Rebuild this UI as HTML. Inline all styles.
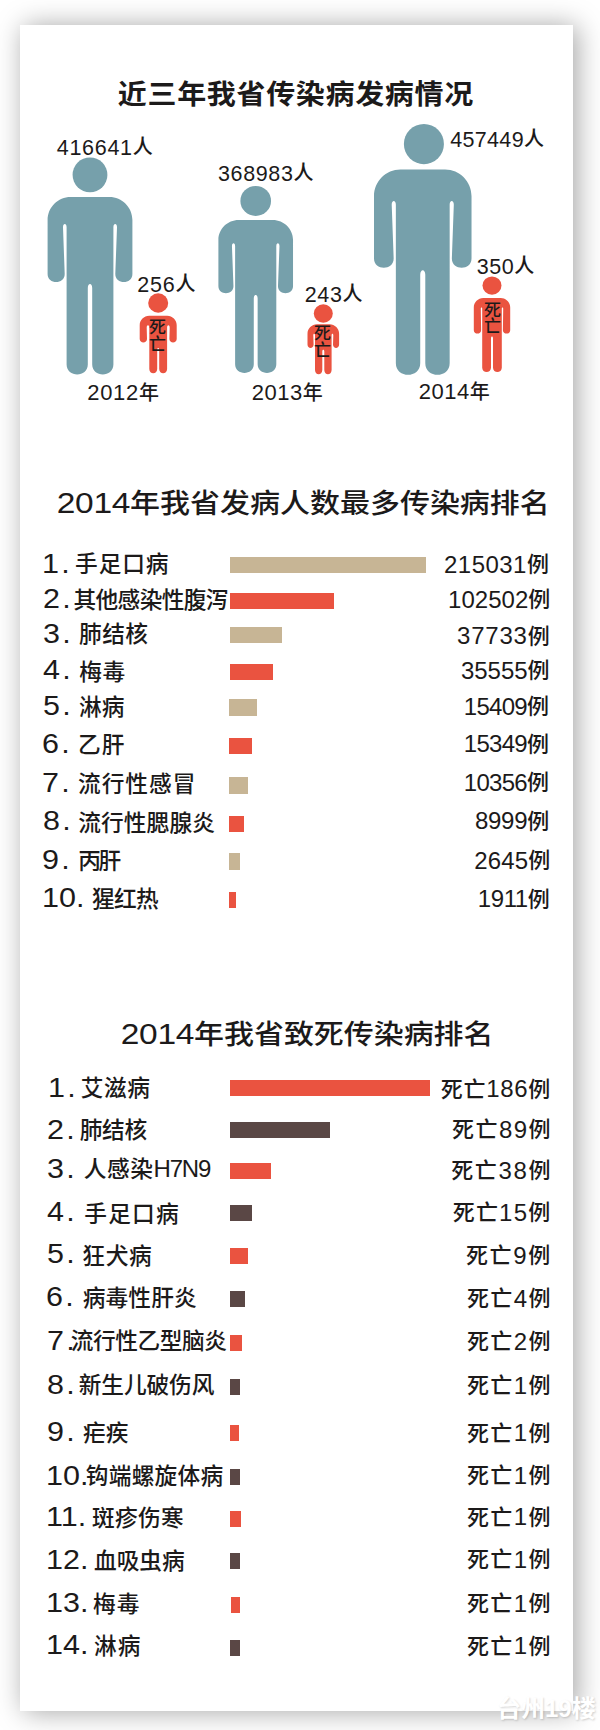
<!DOCTYPE html><html lang="zh"><head><meta charset="utf-8"><title>传染病发病情况</title><style>
html,body{margin:0;padding:0;background:#fff;}
body{width:600px;height:1730px;position:relative;overflow:hidden;font-family:"Liberation Sans","Noto Sans CJK SC",sans-serif;color:#1c1a1a;}
#panel{position:absolute;left:20px;top:25px;width:553px;height:1685.5px;background:#fff;box-shadow:3.5px 0.5px 26px rgba(0,0,0,0.36);}
.t{position:absolute;white-space:nowrap;line-height:1;}
.c{font-family:"Liberation Sans","Noto Sans CJK SC",sans-serif;font-weight:500;}
.h{font-weight:700;font-family:"Liberation Sans","Noto Sans CJK SC",sans-serif;font-size:29px;transform:scaleY(0.95);transform-origin:0 50%;}
.h2{font-weight:500;font-size:30px;transform:scaleY(0.9);}
.hd{font-family:"Liberation Sans",sans-serif;font-weight:400;font-size:33.5px;letter-spacing:-0.3px;}
.b{position:absolute;}
.n{font-size:27px;}
.v{font-size:24px;}
.z{font-weight:500;font-size:22.7px;font-family:"Liberation Sans","Noto Sans CJK SC",sans-serif;}
.zs{font-weight:500;font-size:22px;font-family:"Liberation Sans","Noto Sans CJK SC",sans-serif;position:relative;top:-0.6px;}
svg{position:absolute;left:0;top:0;}
</style></head><body><div id="panel"></div>
<svg width="600" height="460" viewBox="0 0 600 460"><g transform="translate(47.6,157.6) scale(1.0000,1.0000)" fill="#76a0ab"><circle cx="42.40" cy="17.3" r="17.4"/><path d="M23.00,39.40 L61.80,39.40 C74.45,39.40 84.80,49.75 84.80,62.40 L84.80,116.30 C84.80,126.97 67.70,126.97 67.70,116.30 L69.40,69.74 C69.40,65.42 65.80,65.42 65.80,69.74 L65.80,206.80 C65.80,220.13 44.60,220.13 44.60,206.80 L44.60,130.36 C44.60,125.08 40.20,125.08 40.20,130.36 L40.20,206.80 C40.20,220.13 19.00,220.13 19.00,206.80 L19.00,69.74 C19.00,65.42 15.40,65.42 15.40,69.74 L17.10,116.30 C17.10,126.97 0,126.97 0,116.30 L0,62.40 C0,49.75 10.35,39.40 23.00,39.40 Z"/></g><g transform="translate(218.4,186) scale(0.8800,0.8625)" fill="#76a0ab"><circle cx="42.40" cy="17.3" r="17.4"/><path d="M23.00,39.40 L61.80,39.40 C74.45,39.40 84.80,49.75 84.80,62.40 L84.80,116.30 C84.80,126.97 67.70,126.97 67.70,116.30 L69.40,69.74 C69.40,65.42 65.80,65.42 65.80,69.74 L65.80,206.80 C65.80,220.13 44.60,220.13 44.60,206.80 L44.60,130.36 C44.60,125.08 40.20,125.08 40.20,130.36 L40.20,206.80 C40.20,220.13 19.00,220.13 19.00,206.80 L19.00,69.74 C19.00,65.42 15.40,65.42 15.40,69.74 L17.10,116.30 C17.10,126.97 0,126.97 0,116.30 L0,62.40 C0,49.75 10.35,39.40 23.00,39.40 Z"/></g><g transform="translate(374,124) scale(1.1500,1.1570)" fill="#76a0ab"><circle cx="43.40" cy="17.3" r="17.4"/><path d="M23.00,39.40 L61.80,39.40 C74.45,39.40 84.80,49.75 84.80,62.40 L84.80,116.30 C84.80,126.97 67.70,126.97 67.70,116.30 L69.40,69.74 C69.40,65.42 65.80,65.42 65.80,69.74 L65.80,206.80 C65.80,220.13 44.60,220.13 44.60,206.80 L44.60,130.36 C44.60,125.08 40.20,125.08 40.20,130.36 L40.20,206.80 C40.20,220.13 19.00,220.13 19.00,206.80 L19.00,69.74 C19.00,65.42 15.40,65.42 15.40,69.74 L17.10,116.30 C17.10,126.97 0,126.97 0,116.30 L0,62.40 C0,49.75 10.35,39.40 23.00,39.40 Z"/></g><g transform="translate(139.7,293.3)" fill="#ea5340"><ellipse cx="18.50" cy="9.70" rx="10.00" ry="9.70"/><path d="M9.50,22.50 L27.50,22.50 C32.73,22.50 37.00,26.77 37.00,32.00 L37.00,45.80 C37.00,50.33 29.70,50.33 29.70,45.80 L30.00,34.34 C30.00,31.22 27.40,31.22 27.40,34.34 L27.40,75.80 C27.40,81.40 19.50,81.40 19.50,75.80 L19.50,56.50 C19.50,54.10 17.50,54.10 17.50,56.50 L17.50,75.80 C17.50,81.40 9.60,81.40 9.60,75.80 L9.60,34.34 C9.60,31.22 7.00,31.22 7.00,34.34 L7.30,45.80 C7.30,50.33 0,50.33 0,45.80 L0,32.00 C0,26.77 4.28,22.50 9.50,22.50 Z"/></g><g transform="translate(307.5,304.3)" fill="#ea5340"><ellipse cx="15.80" cy="9.21" rx="9.50" ry="9.21"/><path d="M9.50,19.90 L22.10,19.90 C27.33,19.90 31.60,24.17 31.60,29.40 L31.60,40.30 C31.60,44.83 25.50,44.83 25.50,40.30 L25.80,30.93 C25.80,28.89 24.10,28.89 24.10,30.93 L24.10,65.80 C24.10,71.40 16.80,71.40 16.80,65.80 L16.80,47.30 C16.80,44.90 14.80,44.90 14.80,47.30 L14.80,65.80 C14.80,71.40 7.50,71.40 7.50,65.80 L7.50,30.93 C7.50,28.89 5.80,28.89 5.80,30.93 L6.10,40.30 C6.10,44.83 0,44.83 0,40.30 L0,29.40 C0,24.17 4.28,19.90 9.50,19.90 Z"/></g><g transform="translate(473.8,276.4)" fill="#ea5340"><ellipse cx="18.20" cy="9.21" rx="9.50" ry="9.21"/><path d="M9.50,21.60 L26.90,21.60 C32.12,21.60 36.40,25.88 36.40,31.10 L36.40,53.80 C36.40,58.33 29.10,58.33 29.10,53.80 L29.40,32.36 C29.40,30.68 28.00,30.68 28.00,32.36 L28.00,91.40 C28.00,97.00 19.20,97.00 19.20,91.40 L19.20,61.80 C19.20,59.40 17.20,59.40 17.20,61.80 L17.20,91.40 C17.20,97.00 8.40,97.00 8.40,91.40 L8.40,32.36 C8.40,30.68 7.00,30.68 7.00,32.36 L7.30,53.80 C7.30,58.33 0,58.33 0,53.80 L0,31.10 C0,25.88 4.28,21.60 9.50,21.60 Z"/></g></svg>
<div class="b" style="left:229.5px;top:556.5px;width:196.5px;height:16.9px;background:#c7b595"></div>
<div class="b" style="left:229.5px;top:593px;width:104.5px;height:15.7px;background:#ea5340"></div>
<div class="b" style="left:229.5px;top:626.7px;width:52.2px;height:16.6px;background:#c7b595"></div>
<div class="b" style="left:229.5px;top:663.7px;width:43.5px;height:16.0px;background:#ea5340"></div>
<div class="b" style="left:229.3px;top:699.2px;width:27.4px;height:16.6px;background:#c7b595"></div>
<div class="b" style="left:229.3px;top:737.8px;width:22.4px;height:15.9px;background:#ea5340"></div>
<div class="b" style="left:229.3px;top:776.7px;width:18.5px;height:17.0px;background:#c7b595"></div>
<div class="b" style="left:229.3px;top:815.8px;width:14.9px;height:16.2px;background:#ea5340"></div>
<div class="b" style="left:229.3px;top:853px;width:10.4px;height:17.0px;background:#c7b595"></div>
<div class="b" style="left:229.3px;top:891.7px;width:6.9px;height:16.1px;background:#ea5340"></div>
<div class="b" style="left:230px;top:1080.2px;width:200.2px;height:15.9px;background:#ea5340"></div>
<div class="b" style="left:229.7px;top:1122.3px;width:100.3px;height:16.1px;background:#5a4745"></div>
<div class="b" style="left:230.3px;top:1163px;width:41.0px;height:15.8px;background:#ea5340"></div>
<div class="b" style="left:229.6px;top:1205px;width:22.4px;height:16.2px;background:#5a4745"></div>
<div class="b" style="left:230px;top:1248.3px;width:18.3px;height:15.6px;background:#ea5340"></div>
<div class="b" style="left:230px;top:1290.8px;width:15.3px;height:15.9px;background:#5a4745"></div>
<div class="b" style="left:230.3px;top:1335px;width:11.7px;height:15.8px;background:#ea5340"></div>
<div class="b" style="left:230.3px;top:1378.7px;width:9.4px;height:16.0px;background:#5a4745"></div>
<div class="b" style="left:230.3px;top:1425px;width:8.5px;height:15.8px;background:#ea5340"></div>
<div class="b" style="left:230.3px;top:1468.8px;width:9.7px;height:16.2px;background:#5a4745"></div>
<div class="b" style="left:230.3px;top:1511.3px;width:10.5px;height:15.9px;background:#ea5340"></div>
<div class="b" style="left:230.3px;top:1553.3px;width:9.7px;height:15.9px;background:#5a4745"></div>
<div class="b" style="left:230.8px;top:1597px;width:9.2px;height:16.0px;background:#ea5340"></div>
<div class="b" style="left:230.3px;top:1639.7px;width:9.7px;height:16.1px;background:#5a4745"></div>
<div class="t h" id="f0" style="left:117.80px;top:79.55px;letter-spacing:0.67px;">近三年我省传染病发病情况</div>
<div class="t h h2" id="f1" style="left:56.75px;top:486.00px;letter-spacing:-0.02px;"><span class="hd">2014</span>年我省发病人数最多传染病排名</div>
<div class="t h h2" id="f2" style="left:120.75px;top:1016.75px;letter-spacing:-0.06px;"><span class="hd">2014</span>年我省致死传染病排名</div>
<div class="t" id="f3" style="left:56.85px;top:138.10px;letter-spacing:0.68px;"><span style="font-size:21.5px">416641</span><span class="c" style="font-size:20px;position:relative;top:-1px">人</span></div>
<div class="t" id="f4" style="left:218.00px;top:163.70px;letter-spacing:0.63px;"><span style="font-size:21.5px">368983</span><span class="c" style="font-size:20px;position:relative;top:-1px">人</span></div>
<div class="t" id="f5" style="left:450.25px;top:129.55px;letter-spacing:0.32px;"><span style="font-size:21.5px">457449</span><span class="c" style="font-size:20px;position:relative;top:-1px">人</span></div>
<div class="t" id="f6" style="left:137.25px;top:274.70px;letter-spacing:0.77px;"><span style="font-size:21.5px">256</span><span class="c" style="font-size:20px;position:relative;top:-1px">人</span></div>
<div class="t" id="f7" style="left:304.70px;top:284.90px;letter-spacing:0.67px;"><span style="font-size:21.5px">243</span><span class="c" style="font-size:20px;position:relative;top:-1px">人</span></div>
<div class="t" id="f8" style="left:476.70px;top:256.60px;letter-spacing:0.60px;"><span style="font-size:21.5px">350</span><span class="c" style="font-size:20px;position:relative;top:-1px">人</span></div>
<div class="t" id="f9" style="left:87.25px;top:382.20px;letter-spacing:0.68px;"><span style="font-size:22px">2012</span><span class="c" style="font-size:20px;position:relative;top:0px">年</span></div>
<div class="t" id="f10" style="left:251.70px;top:382.20px;letter-spacing:0.50px;"><span style="font-size:22px">2013</span><span class="c" style="font-size:20px;position:relative;top:0px">年</span></div>
<div class="t" id="f11" style="left:418.70px;top:380.55px;letter-spacing:0.50px;"><span style="font-size:22px">2014</span><span class="c" style="font-size:20px;position:relative;top:0px">年</span></div>
<div class="t c" id="f12" style="left:149.00px;top:320.20px;letter-spacing:0.00px;font-size:17px;line-height:16.8px;text-align:center;">死<br>亡</div>
<div class="t c" id="f13" style="left:314.00px;top:326.20px;letter-spacing:0.00px;font-size:17px;line-height:16.8px;text-align:center;">死<br>亡</div>
<div class="t c" id="f14" style="left:484.00px;top:302.65px;letter-spacing:0.00px;font-size:17px;line-height:16.8px;text-align:center;">死<br>亡</div>
<div class="t n" id="f15" style="left:42.00px;top:550.80px;letter-spacing:0.00px;transform:scaleX(1.13);transform-origin:0 50%;"><span style="letter-spacing:2px">1</span>.</div>
<div class="t z" id="f16" style="left:75.05px;top:553.30px;letter-spacing:0.90px;">手足口病</div>
<div class="t" id="f17" style="left:444.00px;top:552.60px;letter-spacing:0.47px;"><span class="v">215031</span><span class="zs">例</span></div>
<div class="t n" id="f18" style="left:43.00px;top:586.40px;letter-spacing:0.00px;transform:scaleX(1.13);transform-origin:0 50%;"><span style="letter-spacing:2px">2</span>.</div>
<div class="t z" id="f19" style="left:73.50px;top:588.50px;letter-spacing:-0.63px;">其他感染性腹泻</div>
<div class="t" id="f20" style="left:448.00px;top:588.00px;letter-spacing:0.03px;"><span class="v">102502</span><span class="zs">例</span></div>
<div class="t n" id="f21" style="left:43.00px;top:621.40px;letter-spacing:0.00px;transform:scaleX(1.13);transform-origin:0 50%;"><span style="letter-spacing:2px">3</span>.</div>
<div class="t z" id="f22" style="left:79.00px;top:623.45px;letter-spacing:0.50px;">肺结核</div>
<div class="t" id="f23" style="left:457.00px;top:624.40px;letter-spacing:0.80px;"><span class="v">37733</span><span class="zs">例</span></div>
<div class="t n" id="f24" style="left:43.00px;top:657.40px;letter-spacing:0.00px;transform:scaleX(1.13);transform-origin:0 50%;"><span style="letter-spacing:2px">4</span>.</div>
<div class="t z" id="f25" style="left:79.25px;top:660.50px;letter-spacing:0.50px;">梅毒</div>
<div class="t" id="f26" style="left:461.00px;top:658.80px;letter-spacing:-0.04px;"><span class="v">35555</span><span class="zs">例</span></div>
<div class="t n" id="f27" style="left:43.00px;top:693.40px;letter-spacing:0.00px;transform:scaleX(1.13);transform-origin:0 50%;"><span style="letter-spacing:2px">5</span>.</div>
<div class="t z" id="f28" style="left:79.00px;top:696.00px;letter-spacing:0.00px;">淋病</div>
<div class="t" id="f29" style="left:463.75px;top:694.80px;letter-spacing:-0.70px;"><span class="v">15409</span><span class="zs">例</span></div>
<div class="t n" id="f30" style="left:42.00px;top:731.40px;letter-spacing:0.00px;transform:scaleX(1.13);transform-origin:0 50%;"><span style="letter-spacing:2px">6</span>.</div>
<div class="t z" id="f31" style="left:78.00px;top:734.00px;letter-spacing:1.00px;">乙肝</div>
<div class="t" id="f32" style="left:463.75px;top:732.20px;letter-spacing:-0.70px;"><span class="v">15349</span><span class="zs">例</span></div>
<div class="t n" id="f33" style="left:42.00px;top:770.40px;letter-spacing:0.00px;transform:scaleX(1.13);transform-origin:0 50%;"><span style="letter-spacing:2px">7</span>.</div>
<div class="t z" id="f34" style="left:78.00px;top:772.75px;letter-spacing:1.00px;">流行性感冒</div>
<div class="t" id="f35" style="left:463.75px;top:771.00px;letter-spacing:-0.70px;"><span class="v">10356</span><span class="zs">例</span></div>
<div class="t n" id="f36" style="left:43.00px;top:808.40px;letter-spacing:0.00px;transform:scaleX(1.13);transform-origin:0 50%;"><span style="letter-spacing:2px">8</span>.</div>
<div class="t z" id="f37" style="left:78.25px;top:811.50px;letter-spacing:0.10px;">流行性腮腺炎</div>
<div class="t" id="f38" style="left:475.00px;top:809.20px;letter-spacing:-0.30px;"><span class="v">8999</span><span class="zs">例</span></div>
<div class="t n" id="f39" style="left:42.00px;top:847.40px;letter-spacing:0.00px;transform:scaleX(1.13);transform-origin:0 50%;"><span style="letter-spacing:2px">9</span>.</div>
<div class="t z" id="f40" style="left:78.25px;top:850.00px;letter-spacing:-2.50px;">丙肝</div>
<div class="t" id="f41" style="left:474.25px;top:848.80px;letter-spacing:0.12px;"><span class="v">2645</span><span class="zs">例</span></div>
<div class="t n" id="f42" style="left:42.00px;top:885.40px;letter-spacing:0.00px;transform:scaleX(1.13);transform-origin:0 50%;"><span style="letter-spacing:0px">10</span>.</div>
<div class="t z" id="f43" style="left:92.05px;top:888.00px;letter-spacing:-0.65px;">猩红热</div>
<div class="t" id="f44" style="left:477.75px;top:887.40px;letter-spacing:-0.38px;"><span class="v">1911</span><span class="zs">例</span></div>
<div class="t n" id="f45" style="left:48.20px;top:1074.60px;letter-spacing:0.00px;transform:scaleX(1.13);transform-origin:0 50%;"><span style="letter-spacing:2px">1</span>.</div>
<div class="t z" id="f46" style="left:80.80px;top:1077.10px;letter-spacing:0.60px;">艾滋病</div>
<div class="t" id="f47" style="left:440.70px;top:1077.20px;letter-spacing:0.72px;"><span class="zs">死亡</span><span class="v">186</span><span class="zs">例</span></div>
<div class="t n" id="f48" style="left:46.80px;top:1117.00px;letter-spacing:0.00px;transform:scaleX(1.13);transform-origin:0 50%;"><span style="letter-spacing:2px">2</span>.</div>
<div class="t z" id="f49" style="left:79.70px;top:1119.45px;letter-spacing:-0.30px;">肺结核</div>
<div class="t" id="f50" style="left:451.95px;top:1118.00px;letter-spacing:1.47px;"><span class="zs">死亡</span><span class="v">89</span><span class="zs">例</span></div>
<div class="t n" id="f51" style="left:46.80px;top:1156.00px;letter-spacing:0.00px;transform:scaleX(1.13);transform-origin:0 50%;"><span style="letter-spacing:2px">3</span>.</div>
<div class="t z" id="f52" style="left:83.75px;top:1157.25px;letter-spacing:0.57px;">人感染<span style="font-size:24px;letter-spacing:-1.2px;font-weight:400">H7N9</span></div>
<div class="t" id="f53" style="left:451.20px;top:1159.00px;letter-spacing:1.65px;"><span class="zs">死亡</span><span class="v">38</span><span class="zs">例</span></div>
<div class="t n" id="f54" style="left:46.80px;top:1199.40px;letter-spacing:0.00px;transform:scaleX(1.13);transform-origin:0 50%;"><span style="letter-spacing:2px">4</span>.</div>
<div class="t z" id="f55" style="left:84.25px;top:1202.55px;letter-spacing:1.23px;">手足口病</div>
<div class="t" id="f56" style="left:452.70px;top:1201.00px;letter-spacing:1.20px;"><span class="zs">死亡</span><span class="v">15</span><span class="zs">例</span></div>
<div class="t n" id="f57" style="left:46.80px;top:1241.40px;letter-spacing:0.00px;transform:scaleX(1.13);transform-origin:0 50%;"><span style="letter-spacing:2px">5</span>.</div>
<div class="t z" id="f58" style="left:82.25px;top:1244.50px;letter-spacing:0.75px;">狂犬病</div>
<div class="t" id="f59" style="left:465.95px;top:1244.00px;letter-spacing:1.63px;"><span class="zs">死亡</span><span class="v">9</span><span class="zs">例</span></div>
<div class="t n" id="f60" style="left:45.80px;top:1284.40px;letter-spacing:0.00px;transform:scaleX(1.13);transform-origin:0 50%;"><span style="letter-spacing:2px">6</span>.</div>
<div class="t z" id="f61" style="left:82.75px;top:1287.00px;letter-spacing:0.12px;">病毒性肝炎</div>
<div class="t" id="f62" style="left:466.95px;top:1286.80px;letter-spacing:1.43px;"><span class="zs">死亡</span><span class="v">4</span><span class="zs">例</span></div>
<div class="t n" id="f63" style="left:47.40px;top:1328.40px;letter-spacing:0.00px;transform:scaleX(1.13);transform-origin:0 50%;"><span style="letter-spacing:2px">7</span>.</div>
<div class="t z" id="f64" style="left:70.75px;top:1330.25px;letter-spacing:-0.42px;">流行性乙型脑炎</div>
<div class="t" id="f65" style="left:466.95px;top:1329.60px;letter-spacing:1.43px;"><span class="zs">死亡</span><span class="v">2</span><span class="zs">例</span></div>
<div class="t n" id="f66" style="left:46.80px;top:1372.40px;letter-spacing:0.00px;transform:scaleX(1.13);transform-origin:0 50%;"><span style="letter-spacing:2px">8</span>.</div>
<div class="t z" id="f67" style="left:78.75px;top:1374.25px;letter-spacing:-0.10px;">新生儿破伤风</div>
<div class="t" id="f68" style="left:466.95px;top:1373.60px;letter-spacing:1.43px;"><span class="zs">死亡</span><span class="v">1</span><span class="zs">例</span></div>
<div class="t n" id="f69" style="left:46.80px;top:1419.40px;letter-spacing:0.00px;transform:scaleX(1.13);transform-origin:0 50%;"><span style="letter-spacing:2px">9</span>.</div>
<div class="t z" id="f70" style="left:83.00px;top:1422.25px;letter-spacing:0.00px;">疟疾</div>
<div class="t" id="f71" style="left:466.95px;top:1421.20px;letter-spacing:1.43px;"><span class="zs">死亡</span><span class="v">1</span><span class="zs">例</span></div>
<div class="t n" id="f72" style="left:45.80px;top:1463.40px;letter-spacing:0.00px;transform:scaleX(1.13);transform-origin:0 50%;"><span style="letter-spacing:0px">10</span>.</div>
<div class="t z" id="f73" style="left:85.75px;top:1465.25px;letter-spacing:0.26px;">钩端螺旋体病</div>
<div class="t" id="f74" style="left:466.95px;top:1464.00px;letter-spacing:1.43px;"><span class="zs">死亡</span><span class="v">1</span><span class="zs">例</span></div>
<div class="t n" id="f75" style="left:45.80px;top:1504.40px;letter-spacing:0.00px;transform:scaleX(1.13);transform-origin:0 50%;"><span style="letter-spacing:0px">11</span>.</div>
<div class="t z" id="f76" style="left:92.00px;top:1507.25px;letter-spacing:0.33px;">斑疹伤寒</div>
<div class="t" id="f77" style="left:466.95px;top:1505.20px;letter-spacing:1.43px;"><span class="zs">死亡</span><span class="v">1</span><span class="zs">例</span></div>
<div class="t n" id="f78" style="left:45.80px;top:1547.40px;letter-spacing:0.00px;transform:scaleX(1.13);transform-origin:0 50%;"><span style="letter-spacing:0px">12</span>.</div>
<div class="t z" id="f79" style="left:94.00px;top:1549.75px;letter-spacing:0.00px;">血吸虫病</div>
<div class="t" id="f80" style="left:466.95px;top:1548.00px;letter-spacing:1.43px;"><span class="zs">死亡</span><span class="v">1</span><span class="zs">例</span></div>
<div class="t n" id="f81" style="left:45.80px;top:1590.40px;letter-spacing:0.00px;transform:scaleX(1.13);transform-origin:0 50%;"><span style="letter-spacing:0px">13</span>.</div>
<div class="t z" id="f82" style="left:93.00px;top:1593.25px;letter-spacing:1.00px;">梅毒</div>
<div class="t" id="f83" style="left:466.95px;top:1591.60px;letter-spacing:1.43px;"><span class="zs">死亡</span><span class="v">1</span><span class="zs">例</span></div>
<div class="t n" id="f84" style="left:45.80px;top:1632.40px;letter-spacing:0.00px;transform:scaleX(1.13);transform-origin:0 50%;"><span style="letter-spacing:0px">14</span>.</div>
<div class="t z" id="f85" style="left:94.00px;top:1634.75px;letter-spacing:1.00px;">淋病</div>
<div class="t" id="f86" style="left:466.95px;top:1634.20px;letter-spacing:1.43px;"><span class="zs">死亡</span><span class="v">1</span><span class="zs">例</span></div>
<div class="t c" style="left:497px;top:1697px;font-size:24px;font-weight:700;color:#fff;text-shadow:1px 1px 2px rgba(0,0,0,0.16);">台州19楼</div></body></html>
